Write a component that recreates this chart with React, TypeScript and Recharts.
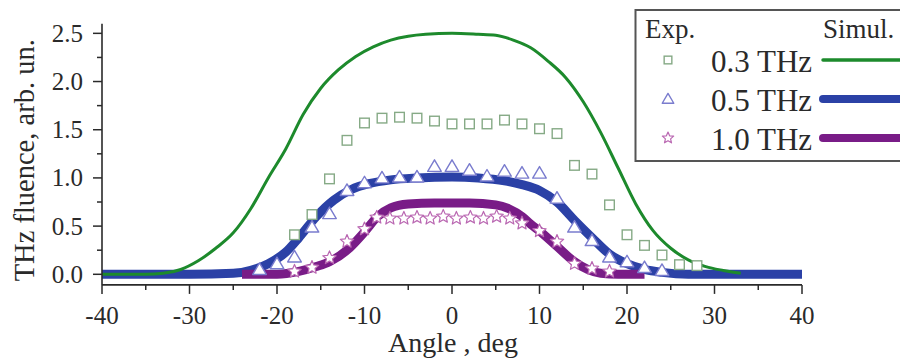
import { ComposedChart, Line, Scatter, XAxis, YAxis } from 'recharts'

const SERIF = '"Liberation Serif", "Times New Roman", serif'
const INK = '#2a2a2a'

// simulation curves (lines)
const simAngles03 = [-40, -35, -33, -31, -29, -27, -25, -23, -21, -19, -17, -15, -13, -11, -9, -7, -5, -3, 0, 3, 5, 7, 9, 11, 13, 15, 17, 19, 21, 23, 25, 27, 29, 31, 33]
const sim03 = [0, 0, 0.01, 0.05, 0.14, 0.27, 0.43, 0.68, 1.0, 1.3, 1.66, 1.93, 2.12, 2.26, 2.36, 2.43, 2.47, 2.49, 2.5, 2.49, 2.48, 2.43, 2.35, 2.21, 2.04, 1.79, 1.47, 1.1, 0.73, 0.45, 0.27, 0.15, 0.08, 0.04, 0.01]

const simAngles05 = [-40, -30, -25, -23, -21, -19, -17.5, -15.5, -13.5, -11.5, -9.5, -7, -4, 0, 3, 6, 8, 10, 12, 14, 16, 18, 20, 22, 24, 27, 40]
const sim05 = [0, 0, 0.01, 0.04, 0.11, 0.23, 0.38, 0.6, 0.77, 0.88, 0.94, 0.98, 1.0, 1.01, 1.0, 0.97, 0.93, 0.87, 0.75, 0.56, 0.38, 0.21, 0.11, 0.05, 0.02, 0, 0]

const simAngles10 = [-24, -20, -17.5, -15.5, -14, -12, -10, -8.5, -7, -5, -2, 2, 5, 6.5, 8, 9, 10, 12, 14, 15.5, 17, 19, 22]
const sim10 = [0, 0, 0.03, 0.08, 0.13, 0.25, 0.44, 0.6, 0.69, 0.73, 0.74, 0.74, 0.72, 0.68, 0.6, 0.52, 0.45, 0.29, 0.13, 0.05, 0.01, 0, 0]

// experiment (points)
const expAngles03 = [-18, -16, -14, -12, -10, -8, -6, -4, -2, 0, 2, 4, 6, 8, 10, 12, 14, 16, 18, 20, 22, 24, 26, 28]
const exp03 = [0.41, 0.62, 0.99, 1.39, 1.57, 1.62, 1.63, 1.62, 1.59, 1.56, 1.56, 1.56, 1.6, 1.56, 1.51, 1.46, 1.13, 1.04, 0.72, 0.41, 0.3, 0.2, 0.1, 0.09]

const expAngles05 = [-22, -20, -18, -16, -14, -12, -10, -8, -6, -4, -2, 0, 2, 4, 6, 8, 10, 12, 14, 16, 18, 20, 22, 24]
const exp05 = [0.05, 0.11, 0.18, 0.49, 0.63, 0.87, 0.95, 1.0, 1.01, 1.01, 1.12, 1.12, 1.08, 1.02, 1.07, 1.05, 1.05, 0.79, 0.49, 0.35, 0.18, 0.13, 0.07, 0.04]

const expAngles10 = [-18, -16, -14, -12, -10, -8.6, -7.1, -5.5, -4, -2.5, -1, 0.5, 2.1, 3.6, 5.1, 6.6, 8, 10, 12, 14, 16, 18]
const exp10 = [0.03, 0.07, 0.17, 0.34, 0.47, 0.59, 0.58, 0.58, 0.59, 0.58, 0.6, 0.58, 0.59, 0.58, 0.6, 0.58, 0.53, 0.45, 0.34, 0.11, 0.06, 0.03]

const xTicks = [-40, -35, -30, -25, -20, -15, -10, -5, 0, 5, 10, 15, 20, 25, 30, 35, 40]
const yTicks = [0, 0.25, 0.5, 0.75, 1.0, 1.25, 1.5, 1.75, 2.0, 2.25, 2.5]

const freqLabels = ['0.3 THz', '0.5 THz', '1.0 THz']
const lineColors = ['#1d8a2c', '#2b41a6', '#791c87']
const markColors = ['#86aa86', '#7a7cce', '#ba68b2']
const lineWidths = [3, 9, 9]

const pairs = (xs: number[], ys: number[]) => xs.map((x, i) => ({ x, y: ys[i] }))

function starPath(cx: number, cy: number, ro: number, ri: number) {
  let d = ''
  for (let i = 0; i < 10; i++) {
    const r = i % 2 === 0 ? ro : ri
    const a = -Math.PI / 2 + (i * Math.PI) / 5
    d += `${i === 0 ? 'M' : 'L'}${cx + r * Math.cos(a)},${cy + r * Math.sin(a)}`
  }
  return d + 'Z'
}

function Marker({ kind, cx, cy, color, s = 1 }: { kind: number; cx: number; cy: number; color: string; s?: number }) {
  if (kind === 0) {
    const h = 4.8 * s
    return <rect x={cx - h} y={cy - h} width={h * 2} height={h * 2} fill="#fff" stroke={color} strokeWidth={1.4} />
  }
  if (kind === 1) {
    const w = 6.8 * s
    return (
      <path
        d={`M${cx},${cy - 6.5 * s}L${cx - w},${cy + 5 * s}L${cx + w},${cy + 5 * s}Z`}
        fill="#fff" stroke={color} strokeWidth={1.4} strokeLinejoin="round"
      />
    )
  }
  return <path d={starPath(cx, cy, 7 * s, 3.2 * s)} fill="#fff" stroke={color} strokeWidth={1.2} strokeLinejoin="round" />
}

const shapeFor = (kind: number) => (p: any) => <Marker kind={kind} cx={p.cx} cy={p.cy} color={markColors[kind]} />

function XTick(props: any) {
  const { x, y, payload } = props
  const v = payload.value as number
  const major = v % 10 === 0
  return (
    <g>
      <line x1={x} y1={y} x2={x} y2={y + (major ? 9 : 5)} stroke={INK} strokeWidth={1.5} />
      {major && (
        <text x={x} y={y + 39} textAnchor="middle" fontFamily={SERIF} fontSize={25} fill={INK}>{v}</text>
      )}
    </g>
  )
}

function YTick(props: any) {
  const { x, y, payload } = props
  const v = payload.value as number
  const major = Math.abs(v * 2 - Math.round(v * 2)) < 1e-6
  return (
    <g>
      <line x1={x - (major ? 9 : 5)} y1={y} x2={x} y2={y} stroke={INK} strokeWidth={1.5} />
      {major && (
        <text x={x - 19} y={y + 8.4} textAnchor="end" fontFamily={SERIF} fontSize={25} fill={INK}>{v.toFixed(1)}</text>
      )}
    </g>
  )
}

function XTitle(props: any) {
  const vb = props.viewBox
  return (
    <text x={vb.x + vb.width / 2 + 1} y={vb.y + 67} textAnchor="middle" fontFamily={SERIF} fontSize={28} fill={INK}>
      Angle , deg
    </text>
  )
}

function YTitle(props: any) {
  const vb = props.viewBox
  const cx = vb.x + 34
  const cy = vb.y + vb.height / 2 + 6
  return (
    <text x={cx} y={cy} transform={`rotate(-90 ${cx} ${cy})`} textAnchor="middle" fontFamily={SERIF} fontSize={28.5} fill={INK}>
      THz fluence, arb. un.
    </text>
  )
}

function LegendBox() {
  const rowsY = [60, 99, 138]
  return (
    <svg width={900} height={358} style={{ position: 'absolute', left: 0, top: 0, pointerEvents: 'none' }}>
      <rect x={635.5} y={10} width={290} height={151} fill="#fff" stroke="#555" strokeWidth={2} />
      <text x={645} y={38} fontFamily={SERIF} fontSize={27} fill={INK}>Exp.</text>
      <text x={823} y={38} fontFamily={SERIF} fontSize={27} fill={INK}>Simul.</text>
      {freqLabels.map((label, i) => (
        <g key={label}>
          <Marker kind={i} cx={668} cy={rowsY[i]} color={markColors[i]} s={i === 0 ? 0.8 : 0.85} />
          <text x={711} y={rowsY[i] + 11.5} fontFamily={SERIF} fontSize={31} fill={INK}>{label}</text>
          <line x1={823} y1={rowsY[i]} x2={910} y2={rowsY[i]} stroke={lineColors[i]} strokeWidth={i === 0 ? 3.5 : 8} strokeLinecap="round" />
        </g>
      ))}
    </svg>
  )
}

export default function App() {
  const sims = [pairs(simAngles03, sim03), pairs(simAngles05, sim05), pairs(simAngles10, sim10)]
  const exps = [pairs(expAngles03, exp03), pairs(expAngles05, exp05), pairs(expAngles10, exp10)]
  const lineOrder = [1, 2, 0]

  return (
    <div style={{ position: 'absolute', left: 0, top: 0, width: 900, height: 358, overflow: 'hidden', background: '#fff' }}>
      <ComposedChart width={900} height={358} margin={{ top: 23.7, right: 98, bottom: 0, left: 0 }}>
        <XAxis
          type="number" dataKey="x" domain={[-40, 40]} ticks={xTicks} interval={0}
          allowDataOverflow height={73.1} tickSize={0} tickMargin={0} tickLine={false}
          axisLine={{ stroke: INK, strokeWidth: 1.6 }} tick={<XTick />}
          label={{ content: XTitle }}
        />
        <YAxis
          type="number" dataKey="y" domain={[-0.11, 2.6]} ticks={yTicks} interval={0}
          allowDataOverflow width={102} tickSize={0} tickMargin={0} tickLine={false}
          axisLine={{ stroke: INK, strokeWidth: 1.6 }} tick={<YTick />}
          label={{ content: YTitle }}
        />
        {lineOrder.map(i => (
          <Line
            key={`sim${i}`} data={sims[i]} dataKey="y" type="monotone"
            stroke={lineColors[i]} strokeWidth={lineWidths[i]} dot={false}
            activeDot={false} isAnimationActive={false}
          />
        ))}
        {exps.map((d, i) => (
          <Scatter key={`exp${i}`} data={d} dataKey="y" shape={shapeFor(i)} isAnimationActive={false} />
        ))}
      </ComposedChart>
      <LegendBox />
    </div>
  )
}
